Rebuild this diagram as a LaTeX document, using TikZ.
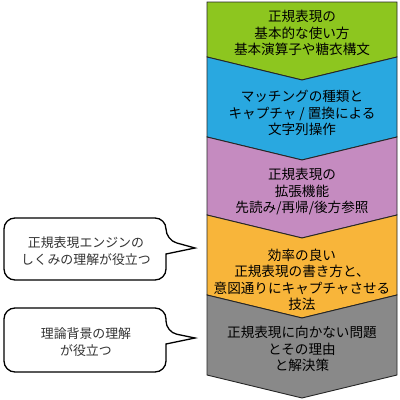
\documentclass[tikz,border=0pt]{standalone}
\usepackage{fontspec}
\setmainfont{Noto Sans CJK JP}
\usetikzlibrary{positioning}
\definecolor{stepgreen}{RGB}{141,198,31}
\definecolor{stepblue}{RGB}{41,168,224}
\definecolor{steppink}{RGB}{197,139,192}
\definecolor{steporange}{RGB}{248,181,58}
\definecolor{stepgray}{RGB}{137,137,137}

\begin{document}
\begin{tikzpicture}[x=1pt, y=-1pt,
    band/.style={draw=black!85, line width=0.9pt, line join=miter},
    steptext/.style={font=\fontsize{13.6}{16.5}\selectfont, align=center, text=black},
    bubble/.style={draw=black, line width=1.3pt, fill=white, line join=miter},
    bubbletext/.style={font=\fontsize{12.9}{17.5}\selectfont, align=center, text=black!80}
]
\useasboundingbox (0,0) rectangle (400,400);

% chevron column
\filldraw[band, fill=stepgreen] (207,2) -- (397,2) -- (397,57) -- (302,80) -- (207,57) -- cycle;
\filldraw[band, fill=stepblue] (207,57) -- (302,80) -- (397,57) -- (397,137) -- (302,160) -- (207,137) -- cycle;
\filldraw[band, fill=steppink] (207,137) -- (302,160) -- (397,137) -- (397,215) -- (302,238) -- (207,215) -- cycle;
\filldraw[band, fill=steporange] (207,215) -- (302,238) -- (397,215) -- (397,295) -- (302,318) -- (207,295) -- cycle;
\filldraw[band, fill=stepgray] (207,295) -- (302,318) -- (397,295) -- (397,375) -- (302,398) -- (207,375) -- cycle;

\node[steptext] (step1) at (302,33) {正規表現の\\基本的な使い方\\基本演算子や糖衣構文};
\node[steptext] (step2) at (302,113) {マッチングの種類と\\キャプチャ / 置換による\\文字列操作};
\node[steptext] (step3) at (302,192) {正規表現の\\拡張機能\\先読み/再帰/後方参照};
\node[steptext] (step4) at (302,280) {効率の良い\\正規表現の書き方と、\\意図通りにキャプチャさせる\\技法};
\node[steptext] (step5) at (302,349) {正規表現に向かない問題\\とその理由\\と解決策};

% callouts
\coordinate (tip1) at (195,248);
\coordinate (tip2) at (195,338);
\draw[bubble, rounded corners=11pt] (4,218) -- (166,218) -- (166,240) [sharp corners] -- (tip1) -- (166,254) [rounded corners=11pt] -- (166,280) -- (4,280) -- cycle;
\draw[bubble, rounded corners=11pt] (4,308) -- (166,308) -- (166,332) [sharp corners] -- (tip2) -- (166,344) [rounded corners=11pt] -- (166,372) -- (4,372) -- cycle;

\node[bubbletext] (note1) at (86,251) {正規表現エンジンの\\しくみの理解が役立つ};
\node[bubbletext] (note2) at (86,342) {理論背景の理解\\が役立つ};

\end{tikzpicture}
\end{document}
